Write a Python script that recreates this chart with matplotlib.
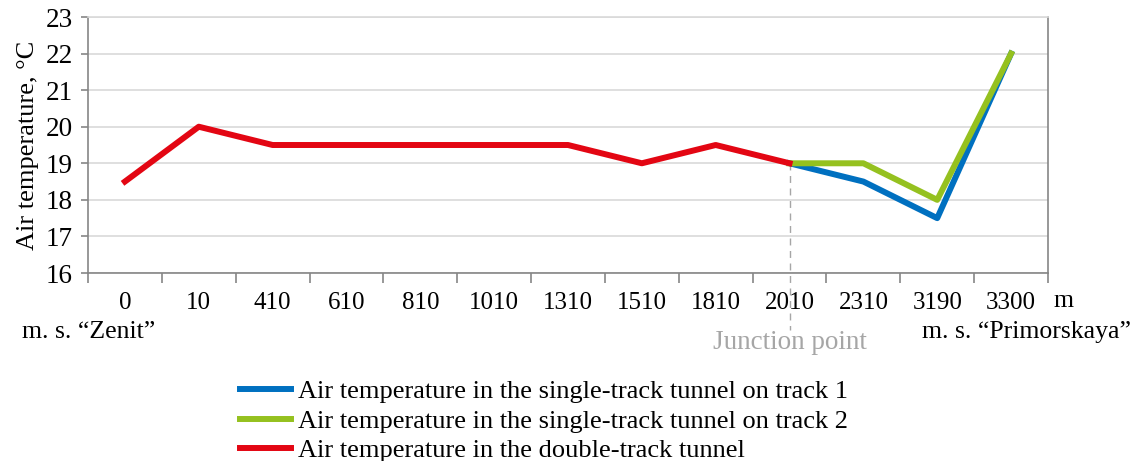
import numpy as np
import matplotlib
matplotlib.use("Agg")
import matplotlib.pyplot as plt

# Data
distances = ["0", "10", "410", "610", "810", "1010", "1310", "1510", "1810", "2010", "2310", "3190", "3300"]
double_track = [18.5, 20, 19.5, 19.5, 19.5, 19.5, 19.5, 19, 19.5, 19]
track1 = [19, 18.5, 17.5, 22]
track2 = [19, 19, 18, 22]
junction_index = 9

plt.rcParams["font.family"] = ["Liberation Serif", "DejaVu Serif"]
plt.rcParams["font.size"] = 19

fig = plt.figure(figsize=(11.34, 4.61), dpi=100)
ax = fig.add_axes([88 / 1134, 1 - 273 / 461, (1048 - 88) / 1134, (273 - 17) / 461])

x_all = np.arange(len(distances))
x_double = x_all[:len(double_track)]
x_single = x_all[junction_index:junction_index + len(track1)]

blue = "#0070c0"
green = "#95c11f"
red = "#e30613"

ax.plot(x_single, track1, color=blue, lw=4.3, zorder=3,
        label="Air temperature in the single-track tunnel on track 1")
ax.plot(x_single, track2, color=green, lw=4.3, zorder=4,
        label="Air temperature in the single-track tunnel on track 2")
ax.plot(x_double, double_track, color=red, lw=4.3, zorder=5,
        label="Air temperature in the double-track tunnel")

ax.set_xlim(-0.5, len(distances) - 0.5)
ax.set_ylim(16, 23)
ax.set_yticks(range(16, 24))
ax.set_yticklabels([str(v) for v in range(16, 24)], fontsize=19.5)
ax.set_xticks(x_all)
ax.set_xticklabels(distances, fontsize=18)
ax.set_xticks(np.arange(-0.5, len(distances)), minor=True)
ax.tick_params(axis="x", which="major", length=0, pad=14)
ax.tick_params(axis="x", which="minor", length=7, width=1.2, color="#868686")
ax.tick_params(axis="y", length=5, width=1.2, color="#868686", pad=6)

ax.grid(axis="y", color="#d9d9d9", lw=1.2)
ax.set_axisbelow(True)
for s in ax.spines.values():
    s.set_color("#868686")
    s.set_linewidth(1.2)
ax.spines["top"].set_color("#d9d9d9")

ax.set_ylabel("Air temperature, °C", fontsize=19, labelpad=5)

# junction marker: dashed line from the junction point down below the labels
y_junction = (track1[0] - 16) / (23 - 16)
ax.plot([junction_index, junction_index], [y_junction, -57 / 256],
        transform=ax.get_xaxis_transform(), clip_on=False,
        color="#a6a6a6", lw=1, ls=(0, (5, 4)), zorder=2)
fig.text(790 / 1134, 1 - 342 / 461, "Junction point", color="#a6a6a6", ha="center", va="center",
         fontsize=19.5)
fig.text(1053 / 1134, 1 - 301 / 461, "m", ha="left", va="center", fontsize=18.5)
fig.text(89 / 1134, 1 - 332 / 461, "m. s. “Zenit”", ha="center", va="center", fontsize=18.5)
fig.text(1026 / 1134, 1 - 332 / 461, "m. s. “Primorskaya”", ha="center", va="center", fontsize=18.5)

fig.legend(loc="upper left", bbox_to_anchor=(240 / 1134, 1 - 380 / 461), frameon=False,
           fontsize=19, handlelength=1.95, handletextpad=0.25, labelspacing=0.22,
           borderaxespad=0, borderpad=0)

fig.savefig("out.png", dpi=100)
